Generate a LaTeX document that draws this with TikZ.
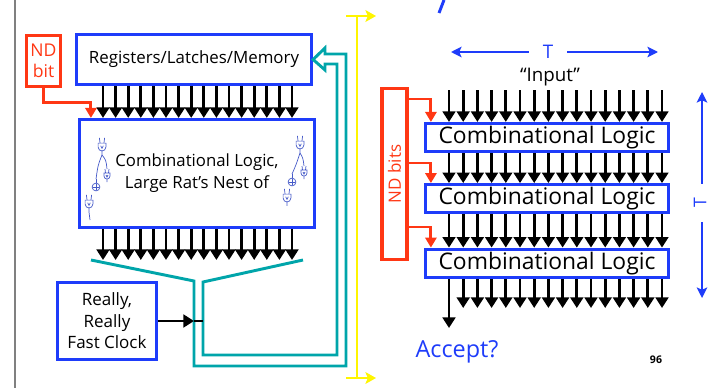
\documentclass[tikz,border=0pt]{standalone}
\usepackage{fontspec}
\setmainfont{Open Sans}
\usetikzlibrary{calc, positioning}
\usetikzlibrary{arrows.meta}

\definecolor{boxblue}{RGB}{30,60,250}
\definecolor{ndred}{RGB}{255,55,20}
\definecolor{busteal}{RGB}{0,165,170}
\definecolor{clkyellow}{RGB}{255,245,0}
\definecolor{nestblue}{RGB}{70,90,200}

\begin{document}
\begin{tikzpicture}[x=0.03cm, y=-0.03cm,
  box/.style={draw=boxblue, line width=2.7pt, inner sep=0pt, align=center},
  ndbox/.style={draw=ndred, line width=2.7pt, inner sep=0pt, align=center, text=ndred},
  wire/.style={line width=2.5pt, -{Triangle[width=10.8pt, length=9pt]}},
  ndwire/.style={draw=ndred, line width=2.5pt, -{Triangle[width=9.5pt, length=8.5pt]}},
  bus/.style={draw=busteal, line width=2.5pt},
  clk/.style={draw=clkyellow, line width=2.5pt, -{Stealth[width=10pt, length=9pt, inset=2pt]}},
  span/.style={draw=boxblue, line width=2.5pt, -{Stealth[width=9pt, length=9pt, inset=2pt]}},
  nest/.style={draw=nestblue, line width=0.6pt},
  gate/.pic={
    \draw (-3,-3) -- (-3,0) .. controls (-3,4) and (3,4) .. (3,0) -- (3,-3) -- cycle;
    \draw (-1.5,-3) -- (-2,-7) (1.5,-3) -- (2,-7) (0,3) -- (0,6);
    \draw (-1,-1) -- (0,1) -- (1,-1);
  },
  xorg/.pic={
    \draw (0,0) circle[radius=3];
    \draw (-2,0) -- (2,0) (0,-2) -- (0,2) (0,-3) -- (0,-6);
  },
]
\useasboundingbox (0,0) rectangle (711,388);

\draw[gray, line width=1.3pt] (15,0) -- (15,388);
\draw[boxblue, line width=2.5pt] (444,0) -- (439,13);

% left half: registers feeding the big logic block
\node[ndbox, minimum width=1.02cm, minimum height=1.53cm, font=\fontsize{15}{18}\selectfont] (ndbit) at (43.5,61) {ND\\bit};
\node[box, minimum width=7.05cm, minimum height=1.5cm, font=\fontsize{14.4}{17}\selectfont] (regs) at (194,59.5) {Registers/Latches/Memory};
\node[box, minimum width=7.05cm, minimum height=3.24cm, font=\fontsize{14.3}{19}\selectfont] (comb) at (197,173.5) {Combinational Logic,\\Large Rat's Nest of};
\node[box, minimum width=2.97cm, minimum height=2.31cm, font=\fontsize{14.5}{18.3}\selectfont] (clock) at (107,321) {Really,\\Really\\Fast Clock};

\coordinate (busin) at (197,260);

\draw[ndwire] (ndbit.south) -- ++(0,14) -| ($(comb.north west)+(13,0)$);

\foreach \i [evaluate=\i as \xx using 103+12.6*\i] in {0,...,15} {
  \draw[wire] (regs.south -| \xx,0) -- (comb.north -| \xx,0);
  \draw[wire] (comb.south -| \xx,0) -- (busin -| \xx,0);
}

% rat's nest scribbles
\begin{scope}[nest]
  \pic[scale=1.3] at (102,147) {gate};
  \pic at (107,176) {gate};
  \pic[scale=1.3] at (96,187) {xorg};
  \pic[scale=1.3] at (89,204) {gate};
  \draw (102,155) .. controls (98,165) .. (96,179);
  \draw (102,155) .. controls (106,160) .. (107,169);
  \draw (89,212) -- (90,220);
  \pic[scale=1.3] at (300,145) {gate};
  \pic at (304,173) {gate};
  \pic[scale=1.3] at (292,182) {xorg};
  \pic[scale=1.3] at (287,198) {gate};
  \draw (300,153) .. controls (296,165) .. (292,174);
  \draw (300,153) .. controls (303,158) .. (304,166);
\end{scope}

% funnel and feedback bus
\draw[bus] (91,260) -- (194,281) -- (194,366) -- (346,366) -- (346,54) -- (325,54) -- (325,48)
  -- (regs.east) -- (325,70) -- (325,64) -- (337,64) -- (337,355) -- (203,355) -- (203,282) -- (303,260);

\coordinate (clkin) at (clock.east -| 194,0);
\coordinate (clkend) at (clock.east -| 203,0);
\draw[wire] (clock.east) -- (clkin);
\draw[line width=2.5pt] (clkin) -- (clkend);

% time line
\coordinate (ytop) at (357,16);
\coordinate (ybot) at (357,378);
\draw[clkyellow, line width=2.5pt] (ytop) -- (ybot);
\draw[clk] (ytop -| 346,0) -- (ytop -| 376,0);
\draw[clk] (ybot -| 346,0) -- (ybot -| 376,0);

% right half: unrolled logic
\node[box, minimum width=7.29cm, minimum height=0.84cm, font=\fontsize{19.5}{22}\selectfont] (cl1) at (547,137.5) {Combinational Logic};
\node[box, minimum width=7.29cm, minimum height=0.84cm, font=\fontsize{19.5}{22}\selectfont, below=0.9cm of cl1] (cl2) {Combinational Logic};
\node[box, minimum width=7.29cm, minimum height=0.84cm, font=\fontsize{19.5}{22}\selectfont, below=1cm of cl2] (cl3) {Combinational Logic};
\node[ndbox, minimum width=0.75cm, minimum height=5.13cm] (ndbits) at (394.5,174) {};
\node[rotate=90, text=ndred, font=\fontsize{14.5}{17}\selectfont] (ndlab) at (ndbits) {ND bits};

\node[font=\fontsize{16}{19}\selectfont] (input) at (550,77) {``Input''};
\coordinate (intop) at (550,90);
\coordinate (outbot) at (550,308);
\coordinate (acctip) at (449,328);

\foreach \b/\yy in {cl1/99, cl2/163, cl3/227}
  \draw[ndwire] (ndbits.east |- 0,\yy) -| ($(\b.north west)+(7,0)$);

\foreach \i [evaluate=\i as \xx using 449+14.2*\i] in {0,...,15} {
  \draw[wire] (intop -| \xx,0) -- (cl1.north -| \xx,0);
  \draw[wire] (cl1.south -| \xx,0) -- (cl2.north -| \xx,0);
  \draw[wire] (cl2.south -| \xx,0) -- (cl3.north -| \xx,0);
}
\foreach \i [evaluate=\i as \xx using 449+14.2*\i] in {1,...,15}
  \draw[wire] (cl3.south -| \xx,0) -- (outbot -| \xx,0);
\draw[wire] (cl3.south -| acctip) -- (acctip);

\node[text=boxblue, font=\fontsize{20}{23}\selectfont] (accept) at (457,352) {Accept?};
\node[font=\fontsize{9}{10}\selectfont\bfseries] (pagenum) at (656,360) {96};

% T spans
\node[text=boxblue, inner xsep=12pt, font=\fontsize{16}{18}\selectfont] (tw) at (548,52) {T};
\draw[span] (tw.west) -- (451,52);
\draw[span] (tw.east) -- (658,52);
\node[text=boxblue, rotate=90, inner xsep=12pt, inner ysep=0pt, font=\fontsize{15}{17}\selectfont] (th) at (700,203) {T};
\draw[span] (th.east -| 702,0) -- (702,92);
\draw[span] (th.west -| 702,0) -- (702,298);
\end{tikzpicture}
\end{document}
